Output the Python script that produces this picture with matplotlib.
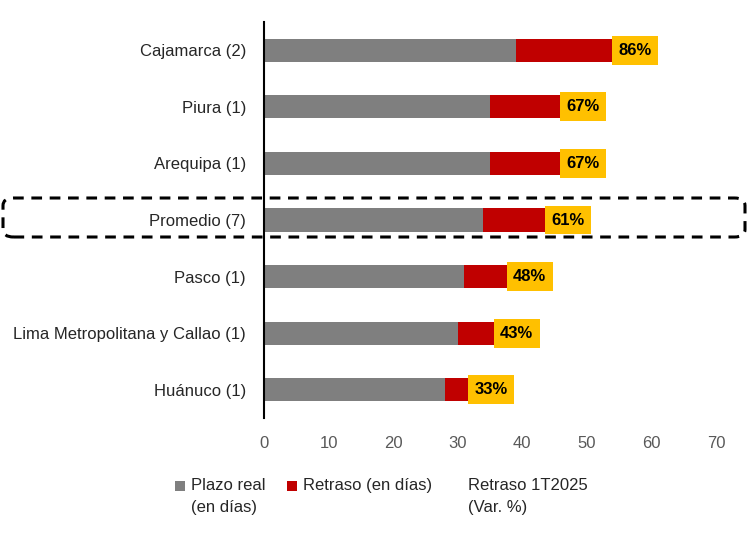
import matplotlib
matplotlib.use("Agg")
import matplotlib.pyplot as plt
from matplotlib.patches import FancyBboxPatch, Rectangle

categories = ["Cajamarca (2)", "Piura (1)", "Arequipa (1)", "Promedio (7)",
              "Pasco (1)", "Lima Metropolitana y Callao (1)", "Huánuco (1)"]
plazo_real = [39.0, 35.0, 35.0, 33.9, 31.0, 30.0, 28.0]
retraso = [14.9, 10.8, 10.8, 9.6, 6.6, 5.6, 3.6]
var_pct = ["86%", "67%", "67%", "61%", "48%", "43%", "33%"]
xticks = [0, 10, 20, 30, 40, 50, 60, 70]
legend_labels = ["Plazo real\n(en días)", "Retraso (en días)", "Retraso 1T2025\n(Var. %)"]

plt.rcParams['font.family'] = ['Liberation Sans', 'DejaVu Sans']

W, H = 749, 537
fig = plt.figure(figsize=(W/100, H/100), dpi=100)
ax = fig.add_axes([264/W, 1-418/H, (716-264)/W, (418-22)/H])

GRAY = "#7F7F7F"
RED = "#C00000"
ORANGE = "#FFC000"
TXT = "#262626"

y = list(range(len(categories)))
ax.barh(y, plazo_real, height=0.41, color=GRAY)
ax.barh(y, retraso, left=plazo_real, height=0.41, color=RED)
totals = [a + b for a, b in zip(plazo_real, retraso)]
box_w = 7.1
ax.barh(y, [box_w]*len(y), left=totals, height=0.51, color=ORANGE)
for yi, t, lab in zip(y, totals, var_pct):
    ax.text(t + box_w/2, yi, lab, ha="center", va="center", fontsize=12,
            fontweight="bold", color="black")

ax.set_xlim(0, 70)
ax.set_ylim(len(categories) - 0.5, -0.5)
ax.set_yticks(y)
ax.set_yticklabels(categories, fontsize=12, color=TXT)
ax.set_xticks(xticks)
ax.set_xticklabels([str(v) for v in xticks], fontsize=12, color="#595959")
ax.tick_params(axis="both", length=0)
ax.tick_params(axis="y", pad=13)
ax.tick_params(axis="x", pad=13)
for s in ["top", "right", "bottom"]:
    ax.spines[s].set_visible(False)
ax.spines["left"].set_linewidth(1.5)
ax.spines["left"].set_color("black")

# dashed highlight box around Promedio
rect = FancyBboxPatch((3/W, 1-237/H), (745-3)/W, (237-198)/H,
                      boxstyle="round,pad=0,rounding_size=0.014",
                      transform=fig.transFigure, fill=False,
                      edgecolor="black", linewidth=2.2, linestyle=(0, (3.5, 2.5)),
                      zorder=5)
fig.patches.append(rect)

# legend (manual, to reproduce the layout)
entries = [(175, GRAY, 191), (287, RED, 303), (None, None, 468)]
for (sx, col, tx), lab in zip(entries, legend_labels):
    if col is not None:
        fig.patches.append(Rectangle((sx/W, 1-491/H), 10/W, 10/H,
                                     transform=fig.transFigure,
                                     facecolor=col, edgecolor="none"))
    fig.text(tx/W, 1-478/H, lab, ha="left", va="top", fontsize=12,
             color=TXT, linespacing=1.6)

fig.savefig("out.png", dpi=100)
